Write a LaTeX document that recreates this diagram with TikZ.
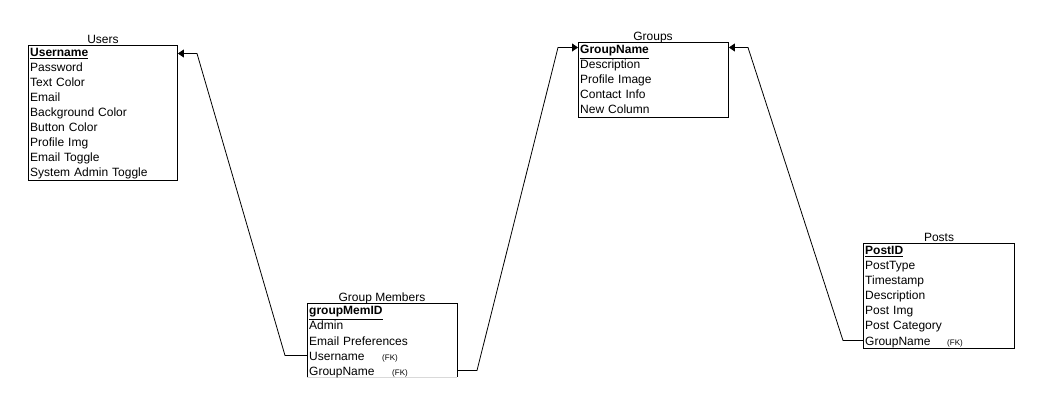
\documentclass[tikz,border=0pt]{standalone}
\usepackage{fontspec}
\setmainfont{Liberation Sans}
\usetikzlibrary{arrows.meta}
\newcommand{\fk}{{\fontsize{8}{9}\selectfont (FK)}}
\begin{document}
\begin{tikzpicture}[x=1pt,y=-1pt,
  tbl/.style={draw=black, line width=0.9pt, anchor=north west, inner sep=0pt},
  row/.style={anchor=west, inner xsep=2pt, inner ysep=0pt, minimum height=15pt,
    text height=9pt, text depth=0pt, text width=140pt, align=left,
    font=\fontsize{12}{14}\selectfont},
  ttl/.style={anchor=base, inner sep=0pt, font=\fontsize{12}{14}\selectfont},
  conn/.style={draw=black, line width=0.8pt},
  arr/.style={conn, -{Triangle[length=6pt,width=8pt]}}]
\useasboundingbox (0,0) rectangle (1039,403);
\fill[white] (0,0) rectangle (1039,403);

% Users
\node[tbl, minimum width=149pt, minimum height=135pt] (users) at (28,45) {};
\node[ttl] (userst) at (103,43.5) {Users};
\node[row] (u1) at (28,52.5) {\underline{\textbf{Username}}};
\node[row] (u2) at (28,67.5) {Password};
\node[row] (u3) at (28,82.5) {Text Color};
\node[row] (u4) at (28,97.5) {Email};
\node[row] (u5) at (28,112.5) {Background Color};
\node[row] (u6) at (28,127.5) {Button Color};
\node[row] (u7) at (28,142.5) {Profile Img};
\node[row] (u8) at (28,157.5) {Email Toggle};
\node[row] (u9) at (28,172.5) {System Admin Toggle};

% Groups
\node[tbl, minimum width=150pt, minimum height=75pt] (groups) at (578,42) {};
\node[ttl] (groupst) at (653,40.5) {Groups};
\node[row] (g1) at (578,49.5) {\underline{\textbf{GroupName}}};
\node[row] (g2) at (578,64.5) {Description};
\node[row] (g3) at (578,79.5) {Profile Image};
\node[row] (g4) at (578,94.5) {Contact Info};
\node[row] (g5) at (578,109.5) {New Column};

% Group Members
\coordinate (gmtl) at (307,303);
\coordinate (gmtr) at (457,303);
\coordinate (gmbl) at (307,377);
\coordinate (gmbr) at (457,377);
\draw[draw=black!15, line width=0.9pt] (gmbl) -- (gmbr);
\draw[draw=black, line width=0.9pt] (gmbl) -- (gmtl) -- (gmtr) -- (gmbr);
\node[ttl] (gmt) at (382,301.5) {Group Members};
\node[row] (m1) at (307,310.5) {\underline{\textbf{groupMemID}}};
\node[row] (m2) at (307,325.5) {Admin};
\node[row] (m3) at (307,340.5) {Email Preferences};
\node[row] (m4) at (307,355.5) {\makebox[73pt][l]{Username}\fk};
\node[row] (m5) at (307,370.5) {\makebox[83pt][l]{GroupName}\fk};

% Posts
\node[tbl, minimum width=151pt, minimum height=105pt] (posts) at (863,243) {};
\node[ttl] (postst) at (939,241.5) {Posts};
\node[row] (p1) at (863,250.5) {\underline{\textbf{PostID}}};
\node[row] (p2) at (863,265.5) {PostType};
\node[row] (p3) at (863,280.5) {Timestamp};
\node[row] (p4) at (863,295.5) {Description};
\node[row] (p5) at (863,310.5) {Post Img};
\node[row] (p6) at (863,325.5) {Post Category};
\node[row] (p7) at (863,340.5) {\makebox[82pt][l]{GroupName}\fk};

% Connectors
\coordinate (c1a) at (285,355.5);
\coordinate (c1b) at (197,53.5);
\draw[arr] (m4.west) -- (c1a) -- (c1b) -- (users.east |- c1b);

\coordinate (c2a) at (477,370.5);
\coordinate (c2b) at (558,47.5);
\draw[arr] (m5.west -| gmtr) -- (c2a) -- (c2b) -- (groups.west |- c2b);

\coordinate (c3a) at (843,340.5);
\coordinate (c3b) at (748,47.5);
\draw[arr] (p7.west) -- (c3a) -- (c3b) -- (groups.east |- c3b);
\end{tikzpicture}
\end{document}
